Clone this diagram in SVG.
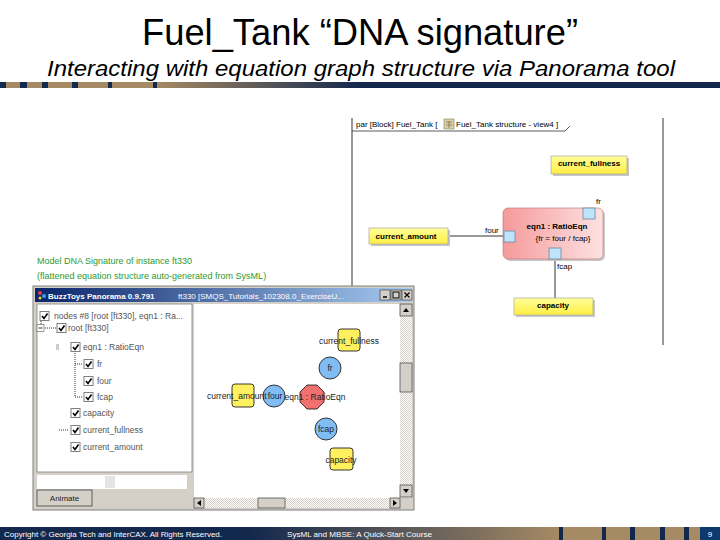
<svg xmlns="http://www.w3.org/2000/svg" width="720" height="540" viewBox="0 0 720 540">
<defs>
<linearGradient id="hdr" x1="0" y1="0" x2="1" y2="0"><stop offset="0" stop-color="#a68a64"/><stop offset="1" stop-color="#13284d"/></linearGradient>
<linearGradient id="ftr" x1="0" y1="0" x2="1" y2="0"><stop offset="0" stop-color="#13284d"/><stop offset="1" stop-color="#a68a64"/></linearGradient>
<linearGradient id="pink" x1="0" y1="0" x2="1" y2="0"><stop offset="0" stop-color="#f59a9a"/><stop offset="1" stop-color="#fde2e2"/></linearGradient>
<linearGradient id="ttl" x1="0" y1="0" x2="1" y2="0"><stop offset="0" stop-color="#0a246a"/><stop offset="1" stop-color="#a6caf0"/></linearGradient>
<linearGradient id="yel" x1="0" y1="0" x2="0" y2="1"><stop offset="0" stop-color="#ffff99"/><stop offset="1" stop-color="#ffee44"/></linearGradient>
<pattern id="dith" width="2" height="2" patternUnits="userSpaceOnUse"><rect width="2" height="2" fill="#ffffff"/><rect width="1" height="1" fill="#d4d0c8"/><rect x="1" y="1" width="1" height="1" fill="#d4d0c8"/></pattern>
<g id="cb"><rect x="0" y="-4.5" width="9" height="9" fill="#fff" stroke="#808080" stroke-width="1"/><path d="M2 0 L4 2.5 L7.5 -2.5" fill="none" stroke="#000" stroke-width="1.6"/></g>
</defs>
<style>
.t{font-family:"Liberation Sans",Arial,sans-serif}
.sm{font-family:"Liberation Sans",Arial,sans-serif;font-size:8px;fill:#000}
.smb{font-family:"Liberation Sans",Arial,sans-serif;font-size:8px;font-weight:bold;fill:#000}
.tree{font-family:"Liberation Sans",Arial,sans-serif;font-size:8.5px;fill:#555}
.pl{font-family:"Liberation Sans",Arial,sans-serif;font-size:8.5px;fill:#222}
.grn{font-family:"Liberation Sans",Arial,sans-serif;font-size:9px;fill:#2e9a2e}
.ft{font-family:"Liberation Sans",Arial,sans-serif;font-size:8px;fill:#fff}
.yb{fill:url(#yel);stroke:#999;stroke-width:0.6}
.shadow{fill:#c8c8c8}
.port{fill:#bfe3fa;stroke:#6a8aa0;stroke-width:0.8}
.pn{fill:#fff060;stroke:#222;stroke-width:0.9}
.pc{fill:#80bdf5;stroke:#222;stroke-width:0.9}
.edge{stroke:#333;stroke-width:1;fill:none}
.btn{fill:#d4d0c8;stroke:#404040;stroke-width:0.7}
.dot{stroke:#333;stroke-width:1;stroke-dasharray:1 1;fill:none}
</style>
<rect width="720" height="540" fill="#fff"/>

<!-- title -->
<text class="t" x="360" y="45" font-size="36" text-anchor="middle" textLength="436" lengthAdjust="spacingAndGlyphs">Fuel_Tank “DNA signature”</text>
<text class="t" x="361" y="76" font-size="22" font-style="italic" text-anchor="middle" textLength="628" lengthAdjust="spacingAndGlyphs">Interacting with equation graph structure via Panorama tool</text>

<!-- header bar -->
<g id="header-bar">
<rect x="0" y="82" width="157" height="6" fill="#a68a64"/>
<rect x="157" y="82" width="203" height="6" fill="url(#hdr)"/>
<rect x="360" y="82" width="360" height="6" fill="#13284d"/>
<rect x="0" y="82" width="6" height="6" fill="#13284d"/>
<rect x="20" y="82" width="7" height="6" fill="#13284d"/>
<rect x="42" y="82" width="6" height="6" fill="#13284d"/>
<rect x="72" y="82" width="6" height="6" fill="#13284d"/>
<rect x="108" y="82" width="4" height="6" fill="#13284d"/>
<rect x="153" y="82" width="4" height="6" fill="#13284d"/>
</g>

<!-- SysML par diagram -->
<g id="par-frame">
<line x1="352" y1="118" x2="352" y2="287" stroke="#333" stroke-width="1"/>
<line x1="663" y1="118" x2="663" y2="345" stroke="#333" stroke-width="1"/>
<path d="M352 131 L565 131 L570 126" fill="none" stroke="#333" stroke-width="0.8"/>
<text class="sm" x="356" y="127">par [Block] Fuel_Tank [</text>
<rect x="444" y="119" width="10" height="10" fill="#d8cfa8" stroke="#8a7a50" stroke-width="0.6"/>
<path d="M446 122 h6 M446 125 h6 M449 121 v7" stroke="#6a5a30" stroke-width="0.6"/>
<text class="sm" x="456" y="127">Fuel_Tank structure - view4 ]</text>
</g>

<g id="connectors">
<line class="edge" x1="448" y1="236" x2="504" y2="236"/>
<line class="edge" x1="555" y1="259" x2="555" y2="298"/>
<line class="edge" x1="340" y1="350" x2="334" y2="358"/>
<line class="edge" x1="325" y1="378" x2="318" y2="387"/>
<line class="edge" x1="285" y1="396" x2="300" y2="396"/>
<line class="edge" x1="254" y1="396" x2="263" y2="396"/>
<line class="edge" x1="317" y1="408" x2="322" y2="418"/>
<line class="edge" x1="330" y1="440" x2="336" y2="448"/>
</g>

<g id="sysml-current_fullness">
<rect class="shadow" x="553" y="158" width="76" height="18"/>
<rect class="yb" x="551" y="156" width="76" height="18"/>
<text class="smb" x="589" y="166" text-anchor="middle">current_fullness</text>
</g>
<g id="sysml-current_amount">
<rect class="shadow" x="371" y="230" width="79" height="16"/>
<rect class="yb" x="369" y="228" width="79" height="16"/>
<text class="smb" x="406" y="239" text-anchor="middle">current_amount</text>
</g>
<g id="sysml-eqn1">
<rect x="505" y="210" width="100" height="51" rx="5" fill="#c8c8c8"/>
<rect x="503" y="208" width="100" height="51" rx="5" fill="url(#pink)" stroke="#c07070" stroke-width="0.6"/>
<text class="smb" x="557" y="229" text-anchor="middle">eqn1 : RatioEqn</text>
<text class="sm" x="563" y="241" text-anchor="middle">{fr = four / fcap}</text>
<rect class="port" x="583" y="208" width="12" height="11"/>
<rect class="port" x="504" y="231" width="11" height="11"/>
<rect class="port" x="549" y="248" width="12" height="11"/>
<text class="sm" x="596" y="204">fr</text>
<text class="sm" x="485" y="233">four</text>
<text class="sm" x="557" y="269">fcap</text>
</g>
<g id="sysml-capacity">
<rect class="shadow" x="516" y="300" width="79" height="17"/>
<rect class="yb" x="514" y="298" width="79" height="17"/>
<text class="smb" x="553" y="308" text-anchor="middle">capacity</text>
</g>

<!-- caption -->
<text class="grn" x="37" y="264">Model DNA Signature of instance ft330</text>
<text class="grn" x="37" y="279">(flattened equation structure auto-generated from SysML)</text>

<!-- Panorama window -->
<g id="panorama-window">
<rect x="33" y="286" width="381" height="224" fill="#d4d0c8" stroke="#808080" stroke-width="1"/>
<rect x="35" y="288" width="377" height="14" fill="url(#ttl)"/>
<circle cx="40" cy="293" r="2" fill="#e04040"/><circle cx="44" cy="296" r="2" fill="#40a0e0"/><circle cx="40" cy="298" r="1.6" fill="#f0c040"/>
<text class="t" x="48" y="298.5" font-size="8" font-weight="bold" fill="#fff">BuzzToys Panorama 0.9.791</text>
<text class="t" x="178" y="298.5" font-size="8" fill="#fff">ft330 [SMQS_Tutorials_102308.0_ExerciseU...</text>
<rect class="btn" x="380" y="290" width="10" height="10"/><path d="M383 297 h4" stroke="#000" stroke-width="1.5"/>
<rect class="btn" x="391" y="290" width="10" height="10"/><rect x="393" y="292" width="6" height="6" fill="none" stroke="#000" stroke-width="1"/>
<rect class="btn" x="402" y="290" width="10" height="10"/><path d="M404.5 292.5 l5 5 M409.5 292.5 l-5 5" stroke="#000" stroke-width="1.2"/>

<!-- tree panel -->
<rect x="37" y="304" width="155" height="168" fill="#fff" stroke="#808080" stroke-width="0.8"/>
<rect x="37" y="475" width="150" height="14" fill="#fff"/>
<rect x="105" y="476" width="10" height="12" fill="#e4e4e4"/>
<rect x="37" y="490" width="55" height="16" fill="#d4d0c8" stroke="#404040" stroke-width="0.8"/>
<text class="t" x="64.5" y="501" font-size="8" fill="#222" text-anchor="middle">Animate</text>

<use href="#cb" x="40" y="316"/>
<text class="tree" x="54" y="319">nodes #8 [root [ft330], eqn1 : Ra...</text>
<line class="dot" x1="41" y1="321" x2="41" y2="324"/>
<rect x="37" y="324.5" width="7" height="7" fill="#fff" stroke="#808080" stroke-width="0.8"/><path d="M38.5 328 h4" stroke="#000" stroke-width="0.8"/>
<line class="dot" x1="45" y1="328" x2="56" y2="328"/>
<use href="#cb" x="57" y="328"/>
<text class="tree" x="68" y="331">root [ft330]</text>
<rect x="56" y="344" width="3" height="6" fill="#ccc"/>
<use href="#cb" x="71" y="347"/>
<text class="tree" x="83" y="350">eqn1 : RatioEqn</text>
<line class="dot" x1="75" y1="353" x2="75" y2="397"/>
<line class="dot" x1="75" y1="364" x2="83" y2="364"/>
<line class="dot" x1="75" y1="397" x2="83" y2="397"/>
<use href="#cb" x="84" y="364"/>
<text class="tree" x="97" y="367">fr</text>
<use href="#cb" x="84" y="381"/>
<text class="tree" x="97" y="384">four</text>
<use href="#cb" x="84" y="397"/>
<text class="tree" x="97" y="400">fcap</text>
<use href="#cb" x="71" y="413"/>
<text class="tree" x="83" y="416">capacity</text>
<line class="dot" x1="59" y1="430" x2="69" y2="430"/>
<use href="#cb" x="71" y="430"/>
<text class="tree" x="83" y="433">current_fullness</text>
<use href="#cb" x="71" y="447"/>
<text class="tree" x="83" y="450">current_amount</text>

<!-- graph pane -->
<rect x="194" y="304" width="206" height="194" fill="#fff"/>
<rect x="400" y="304" width="12" height="194" fill="url(#dith)"/>
<rect class="btn" x="400" y="304" width="12" height="12"/><path d="M403 312 h6 l-3 -4 z" fill="#000"/>
<rect class="btn" x="400" y="363" width="12" height="29"/>
<rect class="btn" x="400" y="485" width="12" height="12"/><path d="M403 489 h6 l-3 4 z" fill="#000"/>
<rect x="194" y="498" width="206" height="10" fill="url(#dith)"/>
<rect class="btn" x="194" y="498" width="10" height="10"/><path d="M201 500 v6 l-4 -3 z" fill="#000"/>
<rect class="btn" x="258" y="498" width="27" height="10"/>
<rect class="btn" x="390" y="498" width="10" height="10"/><path d="M393 500 v6 l4 -3 z" fill="#000"/>
</g>

<g id="pan-current_fullness">
<rect class="pn" x="338" y="329" width="22" height="22" rx="3"/>
<text class="pl" x="349" y="344" text-anchor="middle">current_fullness</text>
</g>
<g id="pan-fr">
<circle class="pc" cx="330" cy="368" r="11"/>
<text class="pl" x="330" y="371" text-anchor="middle">fr</text>
</g>
<g id="pan-eqn1">
<polygon points="307,385 317,385 324,392 324,402 317,409 307,409 300,402 300,392" fill="#f07070" stroke="#222" stroke-width="0.9"/>
<text class="pl" x="315" y="400" text-anchor="middle">eqn1 : RatioEqn</text>
</g>
<g id="pan-four">
<circle class="pc" cx="274" cy="396" r="11"/>
<text class="pl" x="275" y="399" text-anchor="middle" font-size="8">four</text>
</g>
<g id="pan-current_amount">
<rect class="pn" x="232" y="384" width="22" height="23" rx="3"/>
<text class="pl" x="207" y="399" font-size="7.4">current_amount</text>
</g>
<g id="pan-fcap">
<circle class="pc" cx="326" cy="429" r="11"/>
<text class="pl" x="326" y="432" text-anchor="middle">fcap</text>
</g>
<g id="pan-capacity">
<rect class="pn" x="330" y="448" width="23" height="22" rx="3"/>
<text class="pl" x="341" y="463" text-anchor="middle">capacity</text>
</g>

<!-- footer -->
<g id="footer">
<rect x="0" y="527" width="250" height="13" fill="#13284d"/>
<rect x="250" y="527" width="310" height="13" fill="url(#ftr)"/>
<rect x="560" y="527" width="140" height="13" fill="#a68a64"/>
<rect x="559" y="527" width="4" height="13" fill="#13284d"/>
<rect x="602" y="527" width="4" height="13" fill="#13284d"/>
<rect x="630" y="527" width="5" height="13" fill="#13284d"/>
<rect x="660" y="527" width="5" height="13" fill="#13284d"/>
<rect x="684" y="527" width="5" height="13" fill="#13284d"/>
<rect x="700" y="527" width="20" height="13" fill="#0d3a6e"/>
<text class="ft" x="4" y="537" textLength="218" lengthAdjust="spacingAndGlyphs">Copyright © Georgia Tech and InterCAX. All Rights Reserved.</text>
<text class="ft" x="287" y="537" textLength="145" lengthAdjust="spacingAndGlyphs">SysML and MBSE: A Quick-Start Course</text>
<text class="ft" x="710" y="537" text-anchor="middle">9</text>
</g>
</svg>
